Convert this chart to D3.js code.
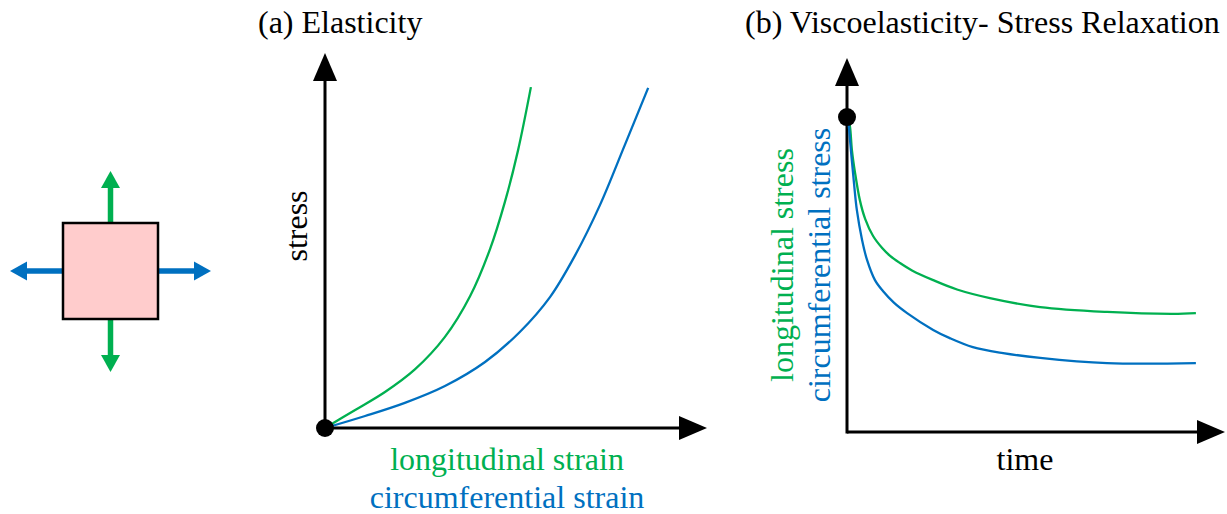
<!DOCTYPE html>
<html>
<head>
<meta charset="utf-8">
<script src="https://cdn.jsdelivr.net/npm/d3@7"></script>
<style>
  html, body { margin: 0; padding: 0; background: #fff; }
  svg { display: block; }
</style>
</head>
<body>
<svg id="fig" width="1227" height="514"></svg>
<script>
// ---- data (arbitrary units) ----
const titles = ["(a) Elasticity", "(b) Viscoelasticity- Stress Relaxation"];
const strainLabels = ["longitudinal strain", "circumferential strain"];
const relaxLabels = ["longitudinal stress", "circumferential stress"];
const elasticYLabel = "stress";
const relaxXLabel = "time";

// (a) stress vs strain
const longStrain = [0, 0.79, 1.57, 2.36, 3.14, 3.80, 4.32, 4.71, 5.05, 5.39];
const longStress = [0, 0.48, 0.96, 1.57, 2.43, 3.52, 4.77, 6.03, 7.39, 9.09];
const circStrain = [0, 1.05, 2.09, 3.14, 4.19, 5.10, 5.89, 6.54, 7.20, 7.85, 8.46];
const circStress = [0, 0.32, 0.67, 1.12, 1.76, 2.56, 3.49, 4.59, 5.95, 7.55, 9.07];

// (b) stress relaxation vs time
const longTime  = [0.03, 0.08, 0.13, 0.21, 0.34, 0.48, 0.69, 0.93, 1.14, 1.40, 1.72, 2.28, 2.91, 3.78, 5.11, 6.88, 8.62, 9.23];
const longRelax = [8.40, 8.16, 7.54, 6.95, 6.20, 5.70, 5.24, 4.92, 4.71, 4.52, 4.32, 4.06, 3.81, 3.58, 3.34, 3.21, 3.16, 3.18];
const circTime  = [0.03, 0.11, 0.19, 0.26, 0.40, 0.53, 0.74, 0.95, 1.24, 1.59, 2.28, 2.72, 3.33, 4.13, 5.11, 6.88, 9.23];
const circRelax = [8.40, 7.46, 6.60, 5.94, 5.13, 4.60, 4.06, 3.77, 3.46, 3.18, 2.73, 2.51, 2.27, 2.11, 1.98, 1.84, 1.84];
const initialStress = 8.42;

const GREEN = "#00B050", BLUE = "#0070C0";
const FONT = 32;
const svg = d3.select("#fig");

// filled triangular arrow head: tip at (x,y), pointing in direction angle (deg)
function arrowHead(g, x, y, angle, len, half, color) {
  g.append("path")
    .attr("d", `M0,0 L${-len},${-half} L${-len},${half} Z`)
    .attr("transform", `translate(${x},${y}) rotate(${angle})`)
    .attr("fill", color);
}

function axesArrows(g, x, y, headLen, headHalf) {
  const [x0, x1] = x.range(), [y0, y1] = y.range();
  g.append("line").attr("x1", x0).attr("y1", y0).attr("x2", x1 - headLen + 2).attr("y2", y0)
    .attr("stroke", "#000").attr("stroke-width", 3);
  g.append("line").attr("x1", x0).attr("y1", y0 + 1.5).attr("x2", x0).attr("y2", y1 + headLen - 2)
    .attr("stroke", "#000").attr("stroke-width", 3);
  arrowHead(g, x1, y0, 0, headLen, headHalf, "#000");
  arrowHead(g, x0, y1, -90, headLen, headHalf, "#000");
}

function label(txt, color) {
  return svg.append("text").style("font-family", '"Liberation Serif"').attr("font-size", FONT)
    .attr("fill", color || "#000").text(txt);
}

// ---- stretched tissue element ----
const icon = svg.append("g");
const box = { x: 63, y: 223, w: 95, h: 96 };
const cx = box.x + box.w / 2, cy = box.y + box.h / 2;
[[cx, box.y, cx, 171, -90, GREEN], [cx, box.y + box.h, cx, 372, 90, GREEN],
 [box.x, cy, 10, cy, 180, BLUE], [box.x + box.w, cy, 211, cy, 0, BLUE]].forEach(([xa, ya, xb, yb, ang, col]) => {
  const len = 17;
  const dx = Math.cos(ang * Math.PI / 180), dy = Math.sin(ang * Math.PI / 180);
  icon.append("line").attr("x1", xa).attr("y1", ya)
    .attr("x2", xb - dx * (len - 1)).attr("y2", yb - dy * (len - 1))
    .attr("stroke", col).attr("stroke-width", 5.5);
  arrowHead(icon, xb, yb, ang, len, 9.5, col);
});
icon.append("rect").attr("x", box.x).attr("y", box.y).attr("width", box.w).attr("height", box.h)
  .attr("fill", "#FFCCCC").attr("stroke", "#000").attr("stroke-width", 2.5);

// ---- (a) elasticity ----
const ga = svg.append("g");
const xa = d3.scaleLinear().domain([0, 10]).range([325, 707]);
const ya = d3.scaleLinear().domain([0, 10]).range([428, 53]);
axesArrows(ga, xa, ya, 28, 12);

const smooth = d3.line().curve(d3.curveCatmullRom.alpha(0.5));
[[longStrain, longStress, GREEN], [circStrain, circStress, BLUE]].forEach(([xs, ys, col]) => {
  ga.append("path")
    .attr("d", smooth(xs.map((v, i) => [xa(v), ya(ys[i])])))
    .attr("fill", "none").attr("stroke", col).attr("stroke-width", 2.3);
});
ga.append("circle").attr("cx", xa(0)).attr("cy", ya(0)).attr("r", 9).attr("fill", "#000");

// ---- (b) stress relaxation ----
const gb = svg.append("g");
const xb = d3.scaleLinear().domain([0, 10]).range([847, 1225]);
const yb = d3.scaleLinear().domain([0, 10]).range([432, 58]);
axesArrows(gb, xb, yb, 28, 12);

[[longTime, longRelax, GREEN], [circTime, circRelax, BLUE]].forEach(([xs, ys, col]) => {
  gb.append("path")
    .attr("d", smooth(xs.map((v, i) => [xb(v), yb(ys[i])])))
    .attr("fill", "none").attr("stroke", col).attr("stroke-width", 2.3);
});
gb.append("circle").attr("cx", xb(0)).attr("cy", yb(initialStress)).attr("r", 9).attr("fill", "#000");

// ---- text ----
label(titles[0]).attr("x", 258).attr("y", 33);
label(elasticYLabel).attr("transform", "translate(307,226) rotate(-90)").attr("text-anchor", "middle");
label(strainLabels[0], GREEN).attr("x", 507).attr("y", 470).attr("text-anchor", "middle");
label(strainLabels[1], BLUE).attr("x", 507).attr("y", 508).attr("text-anchor", "middle");
label(titles[1]).attr("x", 745).attr("y", 33);
label(relaxXLabel).attr("x", 1025).attr("y", 470).attr("text-anchor", "middle");
label(relaxLabels[0], GREEN).attr("transform", "translate(793,265) rotate(-90)").attr("text-anchor", "middle");
label(relaxLabels[1], BLUE).attr("transform", "translate(830,265) rotate(-90)").attr("text-anchor", "middle");
</script>
</body>
</html>
